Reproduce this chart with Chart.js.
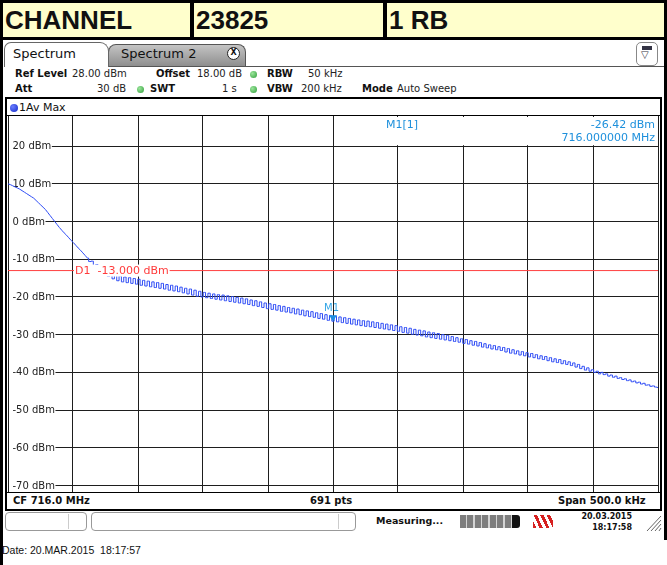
<!DOCTYPE html>
<html>
<head>
<meta charset="utf-8">
<script src="https://cdn.jsdelivr.net/npm/chart.js@4.4.1/dist/chart.umd.min.js"></script>
<style>
  body { margin:0; width:667px; height:565px; position:relative; overflow:hidden; background:#fff; font-family:"DejaVu Sans", sans-serif; color:#111; }
  .a { position:absolute; white-space:pre; }
  .cell { position:absolute; top:3px; height:34px; background:#FFFFCC; font:bold 26px "Liberation Sans", Arial, sans-serif; line-height:34px; padding-left:2px; box-sizing:border-box; }
  .lab { font-weight:bold; font-size:10px; line-height:12px; }
  .val { font-size:10px; line-height:12px; color:#222; }
  .dot { position:absolute; width:7px; height:7px; border-radius:50%; background:radial-gradient(circle at 35% 35%, #9be59b, #2f9e3a); }
  .foot { font-weight:bold; font-size:10px; line-height:14px; }
</style>
</head>
<body>
<!-- titelbalk -->
<div class="a" style="left:0;top:0;width:667px;height:40px;background:#000"></div>
<div class="cell" style="left:3px;width:187px">CHANNEL</div>
<div class="cell" style="left:194px;width:189px">23825</div>
<div class="cell" style="left:387px;width:277px">1 RB</div>
<div class="a" style="left:0;top:40px;width:3px;height:525px;background:#000"></div>
<div class="a" style="left:664px;top:40px;width:3px;height:500px;background:#000"></div>

<!-- tabs -->
<div class="a" style="left:108px;top:66px;width:556px;height:1px;background:#555"></div>
<div class="a" style="left:108px;top:44px;width:138px;height:22px;box-sizing:border-box;border:1px solid #555;border-bottom:none;border-radius:8px 8px 0 0;background:linear-gradient(#c4c4c4,#8e8e8e)"></div>
<div class="a" style="left:4px;top:42px;width:105px;height:25px;box-sizing:border-box;border:1px solid #666;border-bottom:none;border-radius:7px 9px 0 0;background:#fff"></div>
<div class="a" style="left:13px;top:46px;font-size:13px;line-height:16px">Spectrum</div>
<div class="a" style="left:121px;top:46px;font-size:13px;line-height:16px">Spectrum 2</div>
<div class="a" style="left:227px;top:47px;width:13px;height:13px;box-sizing:border-box;border:1.5px solid #222;border-radius:50%;background:#fff;font:bold 8px 'DejaVu Sans';line-height:10px;text-align:center">X</div>
<div class="a" style="left:636px;top:42px;width:22px;height:24px;box-sizing:border-box;border:1px solid #888;border-radius:5px;background:#fff"></div>
<div class="a" style="left:642px;top:46px;width:10px;height:4px;background:#334;"></div>
<div class="a" style="left:641px;top:49px;font-size:10px;line-height:12px;color:#334">&#9661;</div>

<!-- instellingen -->
<div class="a lab" style="left:15px;top:68px">Ref Level</div>
<div class="a val" style="left:72px;top:68px">28.00 dBm</div>
<div class="a lab" style="left:156px;top:68px">Offset</div>
<div class="a val" style="left:197px;top:68px">18.00 dB</div>
<div class="dot" style="left:250px;top:71px"></div>
<div class="a lab" style="left:267px;top:68px">RBW</div>
<div class="a val" style="left:308px;top:68px">50 kHz</div>

<div class="a lab" style="left:15px;top:83px">Att</div>
<div class="a val" style="left:97px;top:83px">30 dB</div>
<div class="dot" style="left:137px;top:86px"></div>
<div class="a lab" style="left:150px;top:83px">SWT</div>
<div class="a val" style="left:222px;top:83px">1 s</div>
<div class="dot" style="left:250px;top:86px"></div>
<div class="a lab" style="left:267px;top:83px">VBW</div>
<div class="a val" style="left:301px;top:83px">200 kHz</div>
<div class="a lab" style="left:362px;top:83px">Mode</div>
<div class="a val" style="left:397px;top:83px">Auto Sweep</div>

<!-- diagramkader -->
<div class="a" style="left:5px;top:97px;width:657px;height:414px;box-sizing:border-box;border:2px solid #000;background:#fff"></div>
<div class="a" style="left:7px;top:115px;width:653px;height:1px;background:#000"></div>
<div class="a" style="left:10px;top:104px;width:8px;height:8px;border-radius:50%;background:radial-gradient(circle at 35% 35%, #6b7dff, #1029c8)"></div>
<div class="a" style="left:19px;top:101px;font-size:11px;line-height:13px">1Av Max</div>

<div class="a" style="left:8px;top:116px"><canvas id="spec" width="652" height="378"></canvas></div>

<div class="a" style="left:7px;top:492px;width:653px;height:1px;background:#000"></div>
<div class="a" style="left:7px;top:493px;width:653px;height:16px;background:#fff"></div>
<div class="a foot" style="left:13px;top:494px">CF 716.0 MHz</div>
<div class="a foot" style="left:310px;top:494px">691 pts</div>
<div class="a foot" style="left:558px;top:494px">Span 500.0 kHz</div>

<!-- statusbalk -->
<div class="a" style="left:5px;top:512px;width:82px;height:19px;box-sizing:border-box;border:1px solid #999;border-radius:4px;background:#fff"></div>
<div class="a" style="left:68px;top:514px;width:1px;height:15px;background:#ccc"></div>
<div class="a" style="left:91px;top:512px;width:265px;height:19px;box-sizing:border-box;border:1px solid #999;border-radius:4px;background:#fff"></div>
<div class="a" style="left:338px;top:514px;width:1px;height:15px;background:#ccc"></div>
<div class="a" style="left:376px;top:515px;font:bold 9.5px 'DejaVu Sans';line-height:12px">Measuring...</div>
<div class="a" style="left:460px;top:515px;width:52px;height:13px;background:repeating-linear-gradient(90deg,#7e7e7e 0 6px,#d4d4d4 6px 7.5px)"></div>
<div class="a" style="left:512px;top:515px;width:8px;height:13px;background:#111;border-radius:0 3px 3px 0"></div>
<div class="a" style="left:533px;top:515px;width:20px;height:13px;background:repeating-linear-gradient(65deg,#d62020 0 3px,transparent 3px 6px)"></div>
<div class="a" style="left:580px;top:511px;width:52px;text-align:right;font:bold 8px 'DejaVu Sans';line-height:11px">20.03.2015
18:17:58</div>
<svg class="a" style="left:646px;top:514px" width="16" height="18">
  <g stroke="#666" stroke-width="1">
    <line x1="15" y1="2" x2="1" y2="17"/><line x1="15" y1="6" x2="5" y2="17"/><line x1="15" y1="10" x2="9" y2="17"/><line x1="15" y1="14" x2="13" y2="17"/>
  </g>
</svg>

<div class="a" style="left:2px;top:544px;font:10.5px 'Liberation Sans', Arial, sans-serif;line-height:13px;color:#111">Date: 20.MAR.2015  18:17:57</div>

<script>
// sweep: 715.75 .. 716.25 MHz (CF 716.0 MHz, span 500 kHz)
const spanStart = 715.75;
const spanStop = 716.25;
const xGridFreqs = [715.75, 715.80, 715.85, 715.90, 715.95, 716.00, 716.05, 716.10, 716.15, 716.20, 716.25];
const yTickValues = [20, 10, 0, -10, -20, -30, -40, -50, -60, -70];

// trace 1 (Av Max), dBm, gelijk verdeeld over de span
const traceLevels = [
  10.0, 9.8, 9.5, 9.2, 8.9, 8.6, 8.2, 7.8, 7.4, 7.0,
  6.6, 6.2, 5.6, 5.0, 4.4, 3.8, 3.2, 2.4, 1.6, 0.8,
  0.0, -0.8, -1.6, -2.3, -3.0, -3.6, -4.3, -5.0, -5.6, -6.3,
  -7.0, -7.6, -8.3, -9.0, -9.7,
  -10.6, -10.5, -11.7, -11.4, -12.8, -12.2, -13.7, -12.9, -14.5, -13.6,
  -15.2, -14.2, -15.7, -14.4, -16.0, -14.7, -16.2, -14.9, -16.4, -15.1,
  -16.6, -15.3, -16.9, -15.6, -17.1, -15.8, -17.3, -16.0, -17.5, -16.2,
  -17.7, -16.4, -17.9, -16.7, -18.2, -16.9, -18.4, -17.1, -18.6, -17.4,
  -18.9, -17.7, -19.2, -17.9, -19.5, -18.2, -19.8, -18.5, -20.0, -18.8,
  -20.2, -19.0, -20.4, -19.2, -20.6, -19.4, -20.8, -19.5, -21.0, -19.7,
  -21.2, -19.9, -21.4, -20.1, -21.6, -20.3, -21.8, -20.5, -22.0, -20.8,
  -22.3, -21.0, -22.5, -21.3, -22.8, -21.6, -23.1, -21.8, -23.3, -22.0,
  -23.5, -22.3, -23.8, -22.5, -24.0, -22.8, -24.2, -23.0, -24.5, -23.2,
  -24.7, -23.5, -25.0, -23.7, -25.2, -23.9, -25.4, -24.2, -25.7, -24.4,
  -25.9, -24.7, -26.2, -24.9, -26.42, -25.1, -26.6, -25.3, -26.8, -25.5,
  -27.0, -25.7, -27.2, -25.9, -27.4, -26.1, -27.6, -26.3, -27.8, -26.4,
  -27.9, -26.6, -28.1, -26.8, -28.3, -27.0, -28.5, -27.2, -28.7, -27.4,
  -28.9, -27.6, -29.1, -27.9, -29.4, -28.1, -29.6, -28.3, -29.9, -28.6,
  -30.1, -28.8, -30.3, -29.0, -30.6, -29.3, -30.8, -29.5, -31.0, -29.7,
  -31.2, -30.0, -31.4, -30.2, -31.6, -30.5, -31.8, -30.8, -32.0, -31.1,
  -32.3, -31.3, -32.5, -31.6, -32.8, -31.8, -33.0, -32.1, -33.3, -32.4,
  -33.5, -32.7, -33.8, -32.9, -34.0, -33.2, -34.2, -33.4, -34.6, -33.7,
  -34.9, -34.0, -35.1, -34.3, -35.4, -34.5, -35.6, -34.8, -35.9, -35.0,
  -36.1, -35.3, -36.4, -35.6, -36.6, -35.8, -36.9, -36.1, -37.2, -36.4,
  -37.4, -36.6, -37.7, -36.9, -37.9, -37.2, -38.2, -37.5, -38.6, -37.9,
  -39.0, -38.4, -39.4, -38.8, -39.7, -39.3, -40.0, -39.7, -40.4, -40.0,
  -40.6, -40.4, -41.0, -40.7, -41.3, -41.0, -41.6, -41.4, -41.9, -41.7,
  -42.2, -42.0, -42.5, -42.3, -42.8, -42.6, -43.1, -42.9, -43.4, -43.3,
  -43.7, -43.6, -43.9, -44.0
];
// vanaf dit punt rimpelt de trace (blokvormig getekend)
const rippleStart = 34;

// display line D1 en marker M1
const limitLevel = -13.0;
const markerFreq = 716.0;
const markerLevel = -26.42;

const sweepFreq = i => spanStart + (spanStop - spanStart) * i / (traceLevels.length - 1);
const tracePoints = traceLevels.map((v, i) => ({ x: sweepFreq(i), y: v }));
const traceColor = 'rgb(45,75,245)';

const overlay = {
  id: 'overlay',
  beforeDatasetsDraw(chart) {
    const { ctx, chartArea: a, scales: { x, y } } = chart;
    ctx.save();
    // y-labels met witte achtergrond over het raster
    ctx.font = '10px "DejaVu Sans"';
    ctx.textBaseline = 'middle';
    yTickValues.forEach(v => {
      const py = y.getPixelForValue(v);
      const txt = v + ' dBm';
      const w = ctx.measureText(txt).width;
      ctx.fillStyle = '#fff';
      ctx.fillRect(a.left + 1, py - 6, w + 4, 12);
      ctx.fillStyle = '#222';
      ctx.fillText(txt, a.left + 4.5, py + 0.5);
    });
    // markerveld rechtsboven
    ctx.fillStyle = '#fff';
    const bx = x.getPixelForValue(markerFreq) + 3;
    ctx.fillRect(bx, a.top + 1, a.right - bx - 1, y.getPixelForValue(20) - a.top - 2);
    ctx.font = '11px "DejaVu Sans"';
    ctx.fillStyle = '#1E90DC';
    ctx.textAlign = 'left';
    ctx.fillText('M1[1]', a.left + 378, a.top + 9);
    ctx.textAlign = 'right';
    ctx.fillText(markerLevel.toFixed(2) + ' dBm', a.right - 3, a.top + 9);
    ctx.fillText(markerFreq.toFixed(6) + ' MHz', a.right - 3, a.top + 22);
    ctx.restore();
  },
  afterDatasetsDraw(chart) {
    const { ctx, chartArea: a, scales: { x, y } } = chart;
    ctx.save();
    ctx.font = '11px "DejaVu Sans"';
    ctx.textBaseline = 'middle';
    const ly = y.getPixelForValue(limitLevel);
    const txt = 'D1  ' + limitLevel.toFixed(3) + ' dBm';
    const w = ctx.measureText(txt).width;
    ctx.fillStyle = '#fff';
    ctx.fillRect(a.left + 66, ly - 6, w + 2, 12);
    ctx.fillStyle = '#FF3B3B';
    ctx.fillText(txt, a.left + 67, ly + 1);
    // marker driehoek met punt op de trace
    const mx = x.getPixelForValue(markerFreq);
    const my = y.getPixelForValue(markerLevel);
    ctx.fillStyle = '#1E8FE0';
    ctx.beginPath();
    ctx.moveTo(mx, my);
    ctx.lineTo(mx - 4, my - 6);
    ctx.lineTo(mx + 4, my - 6);
    ctx.closePath();
    ctx.fill();
    ctx.font = '10px "DejaVu Sans"';
    ctx.textAlign = 'center';
    ctx.fillStyle = '#33A6E6';
    ctx.fillText('M1', mx - 1.5, my - 13);
    ctx.restore();
  }
};

new Chart(document.getElementById('spec'), {
  type: 'line',
  data: {
    datasets: [
      {
        label: 'D1',
        data: [spanStart, spanStop].map(f => ({ x: f, y: limitLevel })),
        borderColor: '#FF4040',
        borderWidth: 1,
        pointRadius: 0,
        order: 3
      },
      {
        label: '1Av Max',
        data: tracePoints.slice(0, rippleStart + 1),
        borderColor: traceColor,
        borderWidth: 1,
        pointRadius: 0,
        tension: 0,
        order: 2
      },
      {
        label: '1Av Max ripple',
        data: tracePoints.slice(rippleStart),
        borderColor: traceColor,
        borderWidth: 1,
        pointRadius: 0,
        stepped: 'middle',
        order: 1
      }
    ]
  },
  options: {
    responsive: false,
    animation: false,
    events: [],
    layout: { padding: { left: 0, top: 0, right: 2, bottom: 1 } },
    plugins: { legend: { display: false }, tooltip: { enabled: false } },
    scales: {
      x: {
        type: 'linear', min: spanStart, max: spanStop,
        afterBuildTicks: s => { s.ticks = xGridFreqs.map(v => ({ value: v })); },
        afterFit: s => { s.height = 0; },
        ticks: { display: false },
        grid: { color: '#1e1e1e', lineWidth: 1, drawTicks: false },
        border: { display: false }
      },
      y: {
        type: 'linear', min: -72, max: 28,
        afterBuildTicks: s => { s.ticks = yTickValues.map(v => ({ value: v })); },
        afterFit: s => { s.width = 0; },
        ticks: { display: false },
        grid: { color: '#1e1e1e', lineWidth: 1, drawTicks: false },
        border: { display: false }
      }
    }
  },
  plugins: [overlay]
});
</script>
</body>
</html>
